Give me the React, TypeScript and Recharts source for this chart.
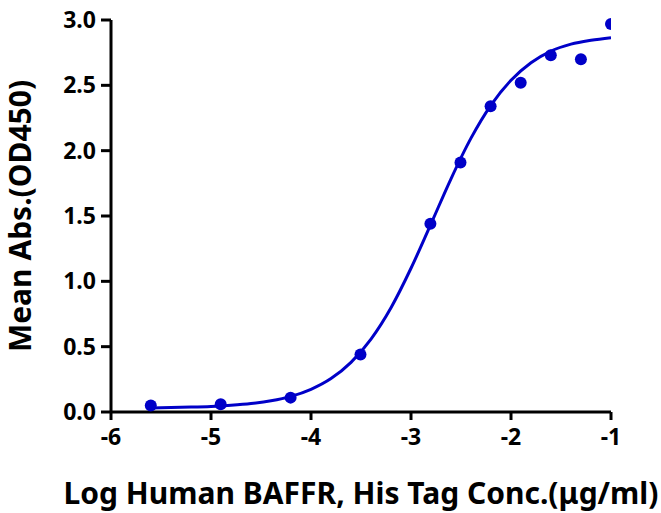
import React from 'react';
import { ComposedChart, Line, Scatter, XAxis, YAxis } from 'recharts';

// measured points (log conc, OD450)
const logConc = [-5.602, -4.903, -4.204, -3.505, -2.806, -2.505, -2.204, -1.903, -1.602, -1.301, -1.0];
const meanAbs = [0.05, 0.06, 0.11, 0.44, 1.44, 1.91, 2.34, 2.52, 2.73, 2.70, 2.97];

// fitted curve
const curveX = [-5.6, -5.4, -5.2, -5.0, -4.8, -4.6, -4.4, -4.2, -4.0, -3.8, -3.6, -3.4, -3.2, -3.0, -2.8, -2.6, -2.4, -2.2, -2.0, -1.8, -1.6, -1.4, -1.2, -1.0];
const curveY = [0.03, 0.035, 0.038, 0.043, 0.052, 0.065, 0.086, 0.12, 0.174, 0.256, 0.38, 0.558, 0.798, 1.1, 1.44, 1.785, 2.096, 2.349, 2.539, 2.673, 2.762, 2.815, 2.845, 2.865];

const xTicks = [-6, -5, -4, -3, -2, -1];
const yTicks = [0, 0.5, 1, 1.5, 2, 2.5, 3];

const points = logConc.map((x, i) => ({ x, y: meanAbs[i] }));
const curve = curveX.map((x, i) => ({ x, y: curveY[i] }));

const BLUE = '#0000c8';
const FONT = '"Noto Sans", "Open Sans", sans-serif';

export default function App() {
  return (
    <div style={{ position: 'absolute', left: 0, top: 0, width: 661, height: 513, background: '#fff' }}>
      <ComposedChart width={661} height={513} margin={{ top: 20, right: 50, bottom: 0, left: 0 }}>
        <XAxis
          type="number"
          dataKey="x"
          domain={[-6, -1]}
          ticks={xTicks}
          allowDataOverflow
          stroke="#000"
          strokeWidth={3}
          tickSize={8}
          tickMargin={9}
          height={101}
          tick={{ fill: '#000', fontSize: 23, fontWeight: 700, fontFamily: FONT }}
          label={{
            value: 'Log Human BAFFR, His Tag Conc.(μg/ml)',
            position: 'insideBottom',
            offset: 9,
            fill: '#000',
            fontSize: 30,
            fontWeight: 700,
            fontFamily: FONT,
          }}
        />
        <YAxis
          type="number"
          dataKey="y"
          domain={[0, 3]}
          ticks={yTicks}
          width={111}
          stroke="#000"
          strokeWidth={3}
          tickSize={10}
          tickMargin={5}
          tickFormatter={(v: number) => v.toFixed(1)}
          tick={{ fill: '#000', fontSize: 23, fontWeight: 700, fontFamily: FONT }}
          label={{
            value: 'Mean Abs.(OD450)',
            angle: -90,
            position: 'insideLeft',
            offset: 20,
            fill: '#000',
            fontSize: 30,
            fontWeight: 700,
            fontFamily: FONT,
            style: { textAnchor: 'middle' },
          }}
        />
        <Line
          data={curve}
          dataKey="y"
          type="monotone"
          stroke={BLUE}
          strokeWidth={3}
          dot={false}
          activeDot={false}
          isAnimationActive={false}
        />
        <Scatter data={points} dataKey="y" fill={BLUE} isAnimationActive={false} shape={(p: any) => <circle cx={p.cx} cy={p.cy} r={6} fill={BLUE} />} />
      </ComposedChart>
    </div>
  );
}
